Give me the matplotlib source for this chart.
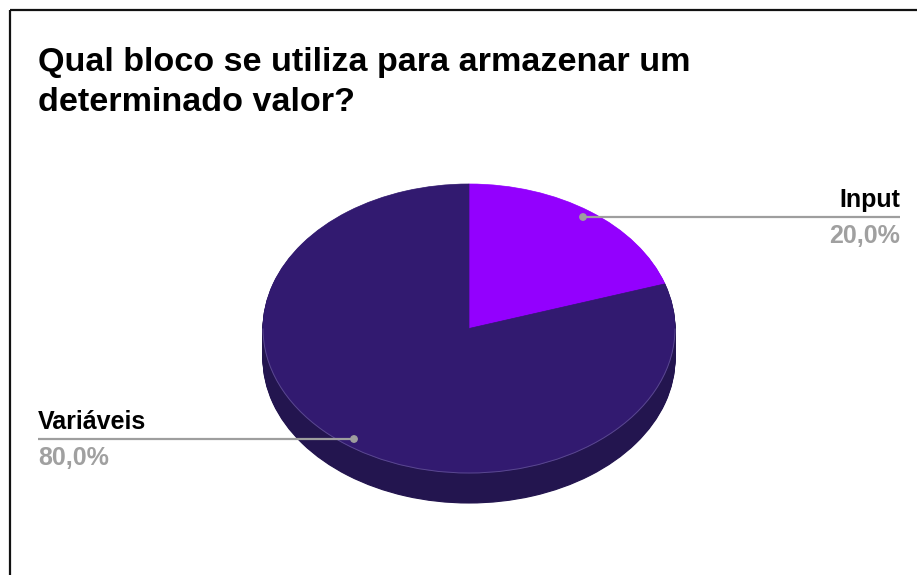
import numpy as np
import matplotlib
matplotlib.use("Agg")
import matplotlib.pyplot as plt
from matplotlib.patches import Wedge, Circle, Arc
from matplotlib.transforms import Affine2D

# ---- data ----
title_lines = ["Qual bloco se utiliza para armazenar um", "determinado valor?"]
labels = ["Input", "Variáveis"]
values = [20.0, 80.0]
colors = ["#9300fe", "#321a70"]
side_colors = ["#5e00a3", "#23154f"]

W, H = 917, 575
fig = plt.figure(figsize=(W / 100, H / 100), dpi=100)
ax = fig.add_axes([0, 0, 1, 1])
ax.set_xlim(0, W)
ax.set_ylim(H, 0)
ax.axis("off")

plt.rcParams['font.family'] = ['Liberation Sans', 'DejaVu Sans']

# frame (top and left lines)
ax.plot([10, W], [10, 10], color="#111111", lw=1.6, solid_capstyle="butt")
ax.plot([10, 10], [10, H], color="#111111", lw=1.6, solid_capstyle="butt")

# title
for i, line in enumerate(title_lines):
    ax.text(38, 71 + 40 * i, line, fontsize=24.6,
            fontweight="bold", color="black", ha="left", va="baseline")

# pie geometry
cx, cy, rx, ry, depth = 469, 328.5, 206, 144.5, 30

def ell_tr(dy=0):
    return Affine2D().scale(rx, -ry).translate(cx, cy + dy) + ax.transData

total = sum(values)
angles = []
start = 90.0
for v in values:
    sweep = 360.0 * v / total
    angles.append((start - sweep, start))
    start -= sweep

# side (extrusion)
for d in np.arange(depth, 0, -1.0):
    for (t1, t2), sc in zip(angles, side_colors):
        w = Wedge((0, 0), 1.0, t1, t2, facecolor=sc, edgecolor=sc, lw=0.8,
                  transform=ell_tr(d))
        ax.add_patch(w)

# top
for (t1, t2), c in zip(angles, colors):
    w = Wedge((0, 0), 1.0, t1, t2, facecolor=c, edgecolor=c, lw=0.5,
              transform=ell_tr(0))
    ax.add_patch(w)

# subtle highlight along front rim
arc = Arc((0, 0), 2.0, 2.0, theta1=180, theta2=360, color="#5a4890", lw=0.7,
          transform=ell_tr(0))
ax.add_patch(arc)

# labels with leader lines
lab_specs = [
    # (dot x, dot y, line end x, text x, ha)
    (583, 217, 900, 900, "right"),
    (354, 439, 38, 38, "left"),
]
for (lab, v), (dx, dy, ex, tx, ha) in zip(zip(labels, values), lab_specs):
    ax.plot([dx, ex], [dy, dy], color="#9e9e9e", lw=1.6, solid_capstyle="butt")
    ax.add_patch(Circle((dx, dy), 3.2, color="#9e9e9e"))
    ax.text(tx, dy - 10, lab, fontsize=18, fontweight="bold", color="black",
            ha=ha, va="baseline")
    ax.text(tx, dy + 26, f"{v:.1f}%".replace(".", ","), fontsize=18,
            fontweight="bold", color="#a0a0a0", ha=ha, va="baseline")

fig.savefig("out.png", dpi=100, facecolor="white")
